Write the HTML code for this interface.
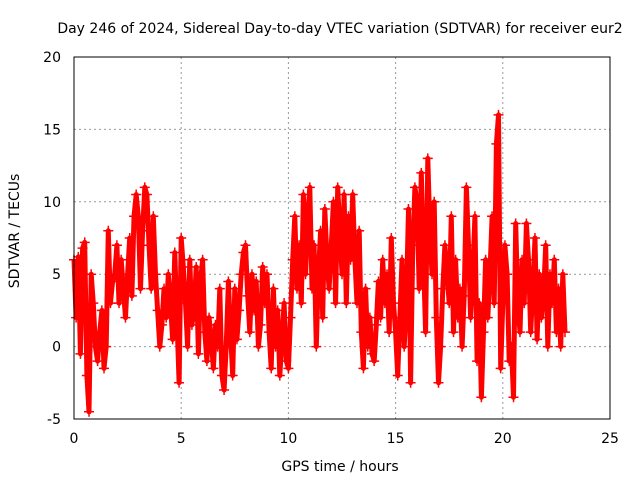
<!DOCTYPE html>
<html><head><meta charset="utf-8"><style>
body{margin:0;background:#fff;}
svg{display:block;font-family:"DejaVu Sans","Liberation Sans",sans-serif;}
</style></head><body>
<svg id="chart" width="640" height="480">
<text x="340" y="33" font-size="14" text-anchor="middle">Day 246 of 2024, Sidereal Day-to-day VTEC variation (SDTVAR) for receiver eur2</text>
<text x="340" y="471" font-size="14" text-anchor="middle">GPS time / hours</text>
<text x="19" y="231" font-size="14" text-anchor="middle" transform="rotate(-90 19 231)">SDTVAR / TECUs</text>
<g id="grid"></g><g id="ticks"></g><g id="series"></g>
<rect x="74" y="57" width="536" height="362" fill="none" stroke="#000" stroke-width="1"/>
</svg>
<script>
const xTicks=[0,5,10,15,20,25];
const yTicks=[-5,0,5,10,15,20];
const hours=[0,0.1,0.2,0.3,0.4,0.5,0.6,0.7,0.8,0.9,1,1.1,1.2,1.3,1.4,1.5,1.6,1.7,1.8,1.9,2,2.1,2.2,2.3,2.4,2.5,2.6,2.7,2.8,2.9,3,3.1,3.2,3.3,3.4,3.5,3.6,3.7,3.8,3.9,4,4.1,4.2,4.3,4.4,4.5,4.6,4.7,4.8,4.9,5,5.1,5.2,5.3,5.4,5.5,5.6,5.7,5.8,5.9,6,6.1,6.2,6.3,6.4,6.5,6.6,6.7,6.8,6.9,7,7.1,7.2,7.3,7.4,7.5,7.6,7.7,7.8,7.9,8,8.1,8.2,8.3,8.4,8.5,8.6,8.7,8.8,8.9,9,9.1,9.2,9.3,9.4,9.5,9.6,9.7,9.8,9.9,10,10.1,10.2,10.3,10.4,10.5,10.6,10.7,10.8,10.9,11,11.1,11.2,11.3,11.4,11.5,11.6,11.7,11.8,11.9,12,12.1,12.2,12.3,12.4,12.5,12.6,12.7,12.8,12.9,13,13.1,13.2,13.3,13.4,13.5,13.6,13.7,13.8,13.9,14,14.1,14.2,14.3,14.4,14.5,14.6,14.7,14.8,14.9,15,15.1,15.2,15.3,15.4,15.5,15.6,15.7,15.8,15.9,16,16.1,16.2,16.3,16.4,16.5,16.6,16.7,16.8,16.9,17,17.1,17.2,17.3,17.4,17.5,17.6,17.7,17.8,17.9,18,18.1,18.2,18.3,18.4,18.5,18.6,18.7,18.8,18.9,19,19.1,19.2,19.3,19.4,19.5,19.6,19.7,19.8,19.9,20,20.1,20.2,20.3,20.4,20.5,20.6,20.7,20.8,20.9,21,21.1,21.2,21.3,21.4,21.5,21.6,21.7,21.8,21.9,22,22.1,22.2,22.3,22.4,22.5,22.6,22.7,22.8,22.9];
const sdtvar=[6,2,6.2,-0.5,6.8,7.2,-2,-4.5,5,3,
0,-1,1,2.5,-1.5,0,8,3,4.5,5,
7,3,6,4,2,5,7.5,3.5,9,10.5,
9,4,8,11,10.5,7,4,9,5,2.5,
0,1.5,4,2,5,3,0.5,6.5,2,-2.5,
7.5,5.5,3,0,6,1.5,2.5,5.5,-0.5,4.5,
6,1,-1,2,0.5,-1.5,1.5,0,4,-2,
-3,0,4.5,1,-2,4,0.5,2.5,5,6.5,
7,3.5,1,5,2.5,4.5,0,1.5,5.5,3,
5,1,-1.5,4,0,2.5,-2,0.5,3,-1,
-1.5,2,6,9,4,7,3,10.5,5,9,
11,4,7,0,5,8,2,9.5,6,4,
7,10,3,11,8,5,10.5,3,9,6,
10.5,6,3,8,1,-1.5,4,0,2,-0.5,
-1,1.5,4.5,2,6,3,5,1,7.5,3,
1,-2,2,6,0,3,9.5,-2.5,7,11,
10,4,12,6,1,13,8,5,10,2,
-2.5,0,4,7,5,3,9,1,6,2,
4,0,3.5,11,7,2,5,9,-1,3,
-3.5,1,6,2,5,9,3,14,16,-1.5,
3,7,5,-1,0,-3.5,8.5,3,1,6,
3,8.5,6,1,4,7.5,0.5,5,2,3.5,
7,0,5,3,6,1,4,0,5,1];
const NS="http://www.w3.org/2000/svg";
const X0=74,X1=610,Y0=419,Y1=57;
function xs(v){return X0+(v-0)/(25-0)*(X1-X0);}
function ys(v){return Y0-(v+5)/(20+5)*(Y0-Y1);}
const grid=document.getElementById('grid'),ticks=document.getElementById('ticks'),ser=document.getElementById('series');
function mk(tag,attrs,parent){const e=document.createElementNS(NS,tag);for(const k in attrs)e.setAttribute(k,attrs[k]);parent.appendChild(e);return e;}
xTicks.forEach(t=>{
  const x=xs(t);
  if(t>0&&t<25){const g=mk('line',{x1:x,x2:x,y1:Y0,y2:Y1,stroke:'#999','stroke-dasharray':'2,3'},grid);
  
  }
  const tx=mk('text',{x:x,y:443,'font-size':14,'text-anchor':'middle'},ticks);tx.textContent=t;
  
  
});
yTicks.forEach(t=>{
  const y=ys(t);
  if(t>-5&&t<20){const g=mk('line',{x1:X0,x2:X1,y1:y,y2:y,stroke:'#999','stroke-dasharray':'2,3'},grid);
  
  }
  const tx=mk('text',{x:61,y:y+5,'font-size':14,'text-anchor':'end'},ticks);tx.textContent=t;
  
  
});
let pts=hours.map((h,i)=>xs(h).toFixed(1)+','+ys(sdtvar[i]).toFixed(1)).join(' ');
const pl=mk('polyline',{points:pts,fill:'none',stroke:'#f00','stroke-width':5,'stroke-linejoin':'round'},ser);


hours.forEach((h,i)=>{
  const x=xs(h),y=ys(sdtvar[i]);
  const p=mk('path',{d:`M${x-5},${y}h10M${x},${y-5}v10`,stroke:'#f00','stroke-width':1.5},ser);
  
  
});
</script>
</body></html>
